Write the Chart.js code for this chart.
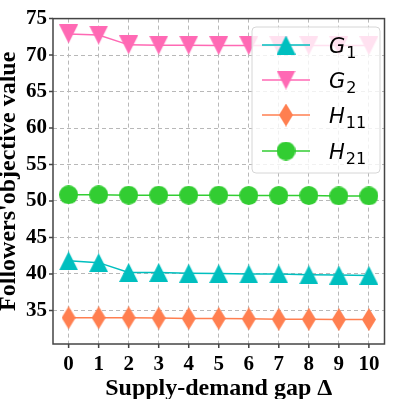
<!DOCTYPE html>
<html>
<head>
<meta charset="utf-8">
<script src="https://cdn.jsdelivr.net/npm/chart.js@4"></script>
<style>
  html, body { margin: 0; padding: 0; background: #fff; }
  #wrap { width: 395px; height: 399px; }
</style>
</head>
<body>
<div id="wrap"><canvas id="myChart" width="395" height="399"></canvas></div>
<script>
gaps = [0, 1, 2, 3, 4, 5, 6, 7, 8, 9, 10];
g1 = [41.8, 41.55, 40.2, 40.2, 40.1, 40.05, 40.0, 40.0, 39.9, 39.85, 39.8];
g2 = [72.9, 72.75, 71.4, 71.35, 71.35, 71.3, 71.3, 71.3, 71.3, 71.3, 71.3];
h11 = [34.0, 34.0, 34.0, 33.95, 33.9, 33.9, 33.85, 33.8, 33.8, 33.75, 33.75];
h21 = [50.85, 50.85, 50.8, 50.8, 50.8, 50.8, 50.75, 50.75, 50.75, 50.7, 50.7];
yTicks = [35, 40, 45, 50, 55, 60, 65, 70, 75];
seriesNames = [['G', '1'], ['G', '2'], ['H', '11'], ['H', '21']];
colour = ['#00bfbf', '#ff69b4', '#ff7f50', '#32cd32'];

function MakeMarker(kind, color){
    let c = document.createElement('canvas');
    let w = kind == 'diamond' ? 14 : 19;
    let h = kind == 'diamond' ? 23 : 19;
    c.width = w;
    c.height = h;
    let g = c.getContext('2d');
    g.fillStyle = color;
    g.beginPath();
    if(kind == 'up'){
        g.moveTo(w/2, 0); g.lineTo(w, h); g.lineTo(0, h);
    } else if(kind == 'down'){
        g.moveTo(0, 0); g.lineTo(w, 0); g.lineTo(w/2, h);
    } else if(kind == 'diamond'){
        g.moveTo(w/2, 0); g.lineTo(w, h/2); g.lineTo(w/2, h); g.lineTo(0, h/2);
    } else {
        g.arc(w/2, h/2, w/2, 0, Math.PI*2);
    }
    g.closePath();
    g.fill();
    return c;
}

markers = [
    MakeMarker('up', colour[0]),
    MakeMarker('down', colour[1]),
    MakeMarker('diamond', colour[2]),
    MakeMarker('circle', colour[3])
];

function Points(vals){
    return gaps.map(function(x, i){ return {x: x, y: vals[i]}; });
}

var datasets = [];
var allVals = [g1, g2, h11, h21];
for (var i = 0; i < allVals.length; i++){
    datasets.push({
        label: seriesNames[i].join(''),
        data: Points(allVals[i]),
        borderColor: colour[i],
        backgroundColor: colour[i],
        borderWidth: 1.5,
        pointStyle: markers[i],
        showLine: true,
        fill: false
    });
}

// frame, tick marks and the legend box with subscripts
var framePlugin = {
    id: 'frame',
    afterDraw: function(chart){
        var ctx = chart.ctx;
        var a = chart.chartArea;
        var xs = chart.scales.x, ys = chart.scales.y;
        ctx.save();
        ctx.strokeStyle = '#444';
        ctx.lineWidth = 1.5;
        ctx.beginPath();
        for (var i = 0; i < gaps.length; i++){
            var px = xs.getPixelForValue(gaps[i]);
            ctx.moveTo(px, a.bottom); ctx.lineTo(px, a.bottom + 4);
        }
        for (var i = 0; i < yTicks.length; i++){
            var py = ys.getPixelForValue(yTicks[i]);
            ctx.moveTo(a.left, py); ctx.lineTo(a.left - 4, py);
        }
        ctx.stroke();
        ctx.strokeRect(a.left, a.top, a.right - a.left, a.bottom - a.top);

        // legend
        var lx = 252, ly = 27, lw = 128, lh = 146, r = 4;
        ctx.beginPath();
        ctx.moveTo(lx + r, ly);
        ctx.arcTo(lx + lw, ly, lx + lw, ly + lh, r);
        ctx.arcTo(lx + lw, ly + lh, lx, ly + lh, r);
        ctx.arcTo(lx, ly + lh, lx, ly, r);
        ctx.arcTo(lx, ly, lx + lw, ly, r);
        ctx.closePath();
        ctx.fillStyle = 'rgba(255,255,255,0.8)';
        ctx.fill();
        ctx.strokeStyle = '#d6d6d6';
        ctx.lineWidth = 1;
        ctx.stroke();
        var rows = [45, 80, 115, 151];
        for (var i = 0; i < rows.length; i++){
            var y = rows[i];
            ctx.strokeStyle = colour[i];
            ctx.lineWidth = 1.5;
            ctx.beginPath();
            ctx.moveTo(262, y); ctx.lineTo(310, y);
            ctx.stroke();
            var m = markers[i];
            ctx.drawImage(m, 286 - m.width/2, y - m.height/2);
            ctx.fillStyle = '#000';
            ctx.textBaseline = 'alphabetic';
            ctx.textAlign = 'left';
            ctx.font = 'italic 21px "DejaVu Sans"';
            ctx.fillText(seriesNames[i][0], 329, y + 8);
            var gw = ctx.measureText(seriesNames[i][0]).width;
            ctx.font = '16px "DejaVu Sans"';
            ctx.fillText(seriesNames[i][1], 329 + gw + 1, y + 13);
        }
        ctx.restore();
    }
};

var serif = '"Liberation Serif", "Times New Roman", serif';
var tickFont = {family: serif, size: 21, weight: 'bold'};

var ctx = document.getElementById('myChart').getContext('2d');
var myChart = new Chart(ctx, {
    type: 'scatter',
    data: { datasets: datasets },
    plugins: [framePlugin],
    options: {
        responsive: false,
        animation: false,
        layout: { padding: { top: 14, right: 2, left: 0, bottom: 0 } },
        elements: { point: { radius: 9 } },
        plugins: {
            legend: { display: false },
            tooltip: { enabled: false }
        },
        scales: {
            x: {
                type: 'linear',
                min: -0.52,
                max: 10.52,
                afterBuildTicks: function(s){ s.ticks = gaps.map(function(v){ return {value: v}; }); },
                afterFit: function(s){ s.height = 55; },
                grid: { color: '#b8b8b8', lineWidth: 1, drawTicks: false },
                border: { display: false, dash: [4, 3] },
                ticks: { color: '#000', font: tickFont, padding: 8, maxRotation: 0, autoSkip: false },
                title: {
                    display: true,
                    text: 'Supply-demand gap Δ',
                    color: '#000',
                    font: {family: serif, size: 24, weight: 'bold', lineHeight: 1},
                    padding: { top: 0, bottom: -2 }
                }
            },
            y: {
                min: 30.4,
                max: 75,
                afterBuildTicks: function(s){ s.ticks = yTicks.map(function(v){ return {value: v}; }); },
                afterFit: function(s){ s.width = 53; },
                grid: { color: '#b8b8b8', lineWidth: 1, drawTicks: false },
                border: { display: false, dash: [4, 3] },
                ticks: { color: '#000', font: tickFont, padding: 6 },
                title: {
                    display: true,
                    text: "Followers'objective value",
                    color: '#000',
                    font: {family: serif, size: 24, weight: 'bold', lineHeight: 1},
                    padding: { top: -3, bottom: 0 }
                }
            }
        }
    }
});
</script>
</body>
</html>
